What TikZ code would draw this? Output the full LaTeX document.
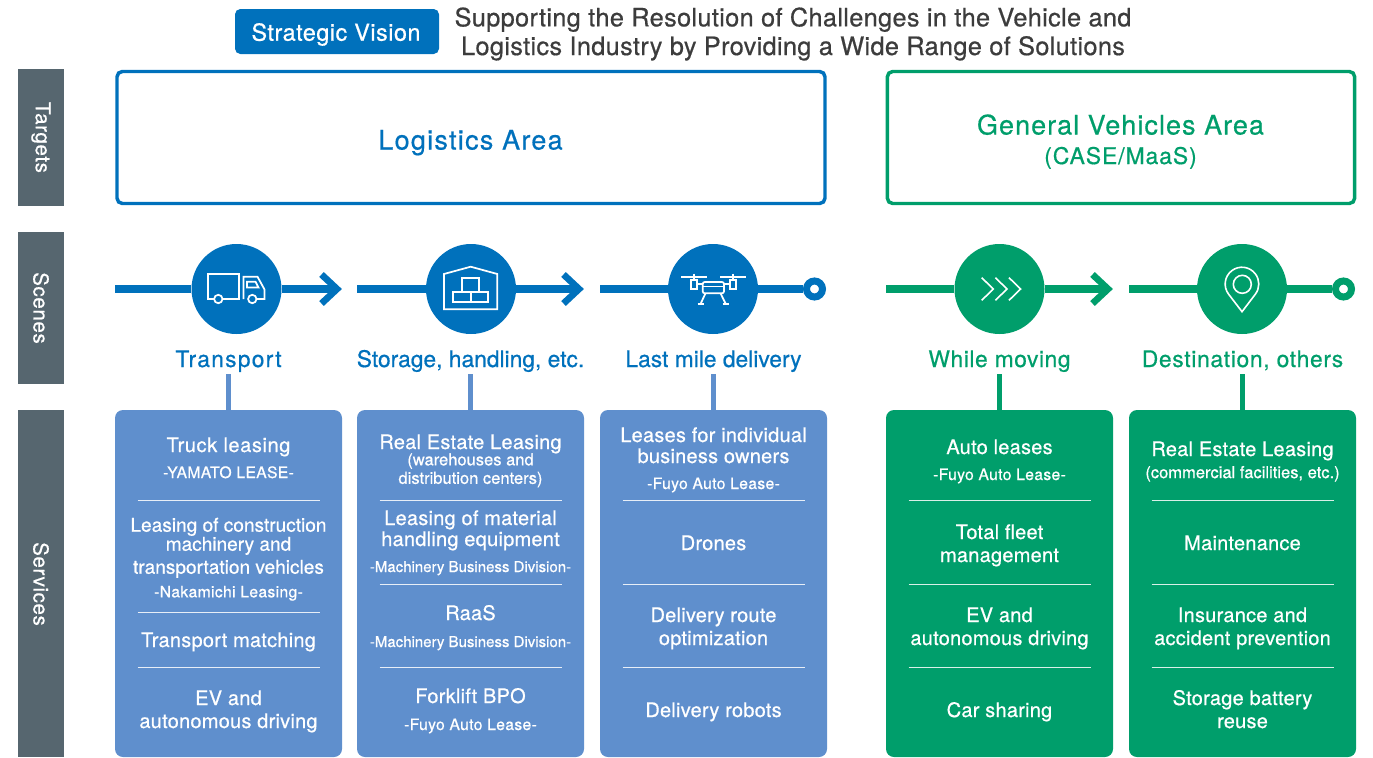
\documentclass[tikz,border=0pt]{standalone}
\usepackage{fontspec}
\setmainfont{TeX Gyre Heros}[FakeBold=0.6]
\usetikzlibrary{calc}
\definecolor{mblue}{HTML}{0071BC}
\definecolor{mgreen}{HTML}{009E6B}
\definecolor{lblue}{HTML}{5F8FCD}
\definecolor{mgray}{HTML}{56666F}
\definecolor{mdark}{HTML}{3C3C3C}
\newcommand{\st}{\vrule height.7\baselineskip depth.3\baselineskip width0pt}
\newcommand{\blk}[5]{\node[#4] (#1) at (#2,#3) {#5};}
\newcommand{\chev}[2]{\draw[line width=5pt,#1,miter limit=10] ($(#2)+(-20.5,-14.5)$) -- ($(#2)+(-5,0)$) -- ($(#2)+(-20.5,14.5)$);}
\tikzset{
  x=0.75pt,y=-0.75pt,
  main/.style={align=center,inner sep=0pt,text=white,yshift=3.45pt,font=\fontsize{15}{17.25}\selectfont\addfontfeature{LetterSpace=1.2}},
  tight/.style={main,font=\fontsize{14.3}{17.25}\selectfont},
  small/.style={align=center,inner sep=0pt,text=white,yshift=2.55pt,font=\fontsize{11.8}{12.75}\selectfont\addfontfeature{LetterSpace=2}},
  mach/.style={small,font=\fontsize{11.25}{12.75}\selectfont},
  tiny/.style={small,font=\fontsize{12.4}{12.75}\selectfont},
  side/.style={fill=mgray,inner sep=0pt,minimum width=34.5pt},
  sidetext/.style={text=white,inner sep=0pt,rotate=-90,font=\fontsize{15.4}{18}\selectfont\addfontfeature{LetterSpace=3}},
  tbox/.style={draw,line width=2.6pt,rounded corners=4pt,fill=white,inner sep=0pt},
  tl/.style={line width=5.6pt},
  disc/.style={circle,inner sep=0pt,minimum size=67.5pt,fill=#1},
  dot/.style={circle,inner sep=0pt,minimum size=12pt,fill=white,draw=#1,line width=5.25pt},
  scene/.style={anchor=base,inner sep=0pt,text depth=5.25pt,font=\fontsize{17.1}{20}\selectfont},
  svcbox/.style={rounded corners=6pt,fill=#1,inner sep=0pt,minimum width=170.25pt,minimum height=260.25pt},
  stem/.style={line width=3.75pt},
  divline/.style={white,line width=0.7pt,opacity=.85},
  icon/.style={white,line width=1.3pt,line join=miter}
}
\begin{document}
\begin{tikzpicture}
\useasboundingbox (0,0) rectangle (1373,757);
% header
\node[fill=mblue,rounded corners=4pt,minimum width=153pt,minimum height=33.75pt,inner sep=0pt] (sv) at (337,31.5) {};
\node[anchor=base,text=white,inner sep=0pt,font=\fontsize{17.6}{20}\selectfont\addfontfeature{LetterSpace=2}] (svt) at (336,40.7) {Strategic Vision};
\node[align=center,inner sep=0pt,text=mdark,font=\fontsize{19}{21.5}\selectfont\addfontfeature{LetterSpace=1.3}] (title) at (793,34) {Supporting the Resolution of Challenges in the Vehicle and\\Logistics Industry by Providing a Wide Range of Solutions};
% side bars
\node[side,minimum height=102.75pt] (barT) at (41,137.5) {};
\node[side,minimum height=114pt] (barS) at (41,308) {};
\node[side,minimum height=260.25pt] (barV) at (41,583.5) {};
\node[sidetext] (txtT) at (41,137.5) {Targets};
\node[sidetext] (txtS) at (41,308) {Scenes};
\node[sidetext] (txtV) at (41,584) {Services};
% target boxes
\node[tbox,draw=mblue,minimum width=531pt,minimum height=99pt] (logi) at (471,137.5) {};
\node[tbox,draw=mgreen,minimum width=350.5pt,minimum height=99pt] (gen) at (1121,137.5) {};
\node[anchor=base,text=mblue,inner sep=0pt,font=\fontsize{20.2}{24}\selectfont\addfontfeature{LetterSpace=4.8}] (logit) at (470.5,149.5) {Logistics Area};
\node[anchor=base,text=mgreen,inner sep=0pt,font=\fontsize{20.2}{24}\selectfont\addfontfeature{LetterSpace=4}] (gent) at (1120.5,134.5) {General Vehicles Area};
\node[anchor=base,text=mgreen,inner sep=0pt,font=\fontsize{17.2}{20}\selectfont\addfontfeature{LetterSpace=4}] (gens) at (1120.5,164) {(CASE/MaaS)};
% scene circles
\node[disc=mblue] (c1) at (236.5,289) {};
\node[disc=mblue] (c2) at (471,289) {};
\node[disc=mblue] (c3) at (713,289) {};
\node[disc=mgreen] (c4) at (999.5,289) {};
\node[disc=mgreen] (c5) at (1242,289) {};
\node[dot=mblue] (e3) at (814.5,289) {};
\node[dot=mgreen] (e5) at (1343.5,289) {};
\coordinate (s1) at (115,289); \coordinate (t1) at (342,289);
\coordinate (s2) at (357,289); \coordinate (t2) at (584,289);
\coordinate (s3) at (600,289);
\coordinate (s4) at (886,289); \coordinate (t4) at (1113,289);
\coordinate (s5) at (1129,289);
\draw[tl,mblue] (s1) -- (c1) (c1) -- ($(t1)+(-6,0)$);
\chev{mblue}{t1}
\draw[tl,mblue] (s2) -- (c2) (c2) -- ($(t2)+(-6,0)$);
\chev{mblue}{t2}
\draw[tl,mblue] (s3) -- (c3) (c3) -- (e3);
\draw[tl,mgreen] (s4) -- (c4) (c4) -- ($(t4)+(-6,0)$);
\chev{mgreen}{t4}
\draw[tl,mgreen] (s5) -- (c5) (c5) -- (e5);
% icons: truck
\draw[icon] (208,273.7) rectangle (238.7,299);
\draw[icon] (243.5,299) -- (243.5,276.7) -- (257.5,276.7) -- (264.5,289.5) -- (264.5,299) -- (257,299);
\draw[icon] (247,281.7) -- (255.5,281.7) -- (258.5,287.5) -- (247,287.5) -- cycle;
\draw[icon,fill=mblue] (218.3,299) circle (4.2);
\draw[icon,fill=mblue] (252.3,299) circle (4.2);
% icons: warehouse
\draw[icon] (444,309.3) -- (444,274) -- (470.7,266.7) -- (497.3,274) -- (497.3,309.3) -- cycle;
\draw[icon] (461.7,278.3) rectangle (479.3,291.7);
\draw[icon] (453.3,291.7) rectangle (470.7,302.3);
\draw[icon] (470.7,291.7) rectangle (488.3,302.3);
% icons: drone
\draw[icon] (681,276.7) -- (706.7,276.7) (720,276.7) -- (745.7,276.7);
\draw[icon] (693.7,273.5) -- (693.7,280) (733,273.5) -- (733,280);
\draw[icon] (690.7,280) rectangle (696.7,289);
\draw[icon] (730,280) rectangle (736,289);
\draw[icon] (696.7,284.3) -- (702.7,284.3) (724,284.3) -- (730,284.3);
\draw[icon,rounded corners=1.5pt] (702.7,282) rectangle (724,293.3);
\draw[icon] (702.7,286.5) -- (724,286.5);
\draw[icon] (705.5,293.3) -- (700.5,304) (720.5,293.3) -- (725.8,304);
\draw[icon] (697.7,304) -- (704,304) (722.7,304) -- (729,304);
% icons: chevrons
\foreach \d in {0,13.7,27.3}{
  \draw[icon,line width=1.2pt] (981.7+\d,277.7) -- (993.3+\d,289) -- (981.7+\d,300.3);
}
% icons: pin
\draw[icon,line width=1.2pt] (1242,311.7) -- (1228.6,294.2) arc[start angle=142.7,end angle=397.3,radius=16.8] -- cycle;
\draw[icon,line width=1.2pt] (1242.3,284.3) circle (9);
% scene labels
\node[scene,text=mblue,font=\fontsize{17.1}{20}\selectfont\addfontfeature{LetterSpace=5.5}] (l1) at (228.5,367) {Transport};
\node[scene,text=mblue] (l2) at (470.5,367) {Storage, handling, etc.};
\node[scene,text=mblue] (l3) at (713.5,367) {Last mile delivery};
\node[scene,text=mgreen,font=\fontsize{17.1}{20}\selectfont\addfontfeature{LetterSpace=2.5}] (l4) at (999.5,367) {While moving};
\node[scene,text=mgreen,font=\fontsize{17.1}{20}\selectfont\addfontfeature{LetterSpace=3}] (l5) at (1242.5,367) {Destination, others};
% service boxes
\node[svcbox=lblue] (b1) at (228.5,583.5) {};
\node[svcbox=lblue] (b2) at (470.5,583.5) {};
\node[svcbox=lblue] (b3) at (713.5,583.5) {};
\node[svcbox=mgreen] (b4) at (999.5,583.5) {};
\node[svcbox=mgreen] (b5) at (1242.5,583.5) {};
\draw[stem,lblue] (l1.south) -- (b1.north);
\draw[stem,lblue] (l2.south) -- (b2.north);
\draw[stem,lblue] (l3.south) -- (b3.north);
\draw[stem,mgreen] (l4.south) -- (b4.north);
\draw[stem,mgreen] (l5.south) -- (b5.north);
% dividers
\foreach \x/\ys in {228.5/{500,612,667},470.5/{500,584,667},713.5/{500,584,667},999.5/{500,584,667},1242.5/{500,584,667}}{
  \foreach \y in \ys { \draw[divline] (\x-91,\y) -- (\x+91,\y); }
}
% column 1
\blk{a1}{228.5}{452}{main}{\st \addfontfeature{LetterSpace=3}Truck leasing}
\blk{a2}{228.5}{478}{small}{\st -YAMATO LEASE-}
\blk{a3}{228.5}{552.7}{tight}{\st Leasing of construction\\[-3pt]\st machinery and\\\st transportation vehicles}
\blk{a4}{228.5}{597.3}{small}{\st -Nakamichi Leasing-}
\blk{a5}{228.5}{647}{main}{\st Transport matching}
\blk{a6}{228.5}{716.5}{main}{\st EV and\\\st autonomous driving}
% column 2
\blk{f1}{470.5}{449}{main}{\st Real Estate Leasing}
\blk{f2}{470.5}{474.5}{tiny}{\st (warehouses and\\\st distribution centers)}
\blk{f3}{470.5}{535.5}{main}{\st Leasing of material\\[-1.5pt]\st handling equipment}
\blk{f4}{470.5}{572}{mach}{\st -Machinery Business Division-}
\blk{f5}{470.5}{620}{main}{\st RaaS}
\blk{f6}{470.5}{647}{mach}{\st -Machinery Business Division-}
\blk{f7}{470.5}{703}{main}{\st Forklift BPO}
\blk{f8}{470.5}{730}{small}{\st -Fuyo Auto Lease-}
% column 3
\blk{g1}{713.5}{452.5}{main}{\st Leases for individual\\[-1.5pt]\st business owners}
\blk{g2}{713.5}{489}{small}{\st -Fuyo Auto Lease-}
\blk{g3}{713.5}{550}{main}{\st Drones}
\blk{g4}{713.5}{633.5}{main}{\st Delivery route\\\st optimization}
\blk{g5}{713.5}{717}{main}{\st Delivery robots}
% column 4
\blk{h1}{999.5}{454}{main}{\st Auto leases}
\blk{h2}{999.5}{480}{small}{\st -Fuyo Auto Lease-}
\blk{h3}{999.5}{550.5}{main}{\st Total fleet\\\st management}
\blk{h4}{999.5}{633.5}{main}{\st EV and\\\st autonomous driving}
\blk{h5}{999.5}{717}{main}{\st Car sharing}
% column 5
\blk{k1}{1242.5}{456}{main}{\st Real Estate Leasing}
\blk{k2}{1242.5}{478}{tiny}{\st (commercial facilities, etc.)}
\blk{k3}{1242.5}{550}{main}{\st Maintenance}
\blk{k4}{1242.5}{633.5}{main}{\st Insurance and\\\st accident prevention}
\blk{k5}{1242.5}{716.5}{main}{\st Storage battery\\\st reuse}
\end{tikzpicture}
\end{document}
